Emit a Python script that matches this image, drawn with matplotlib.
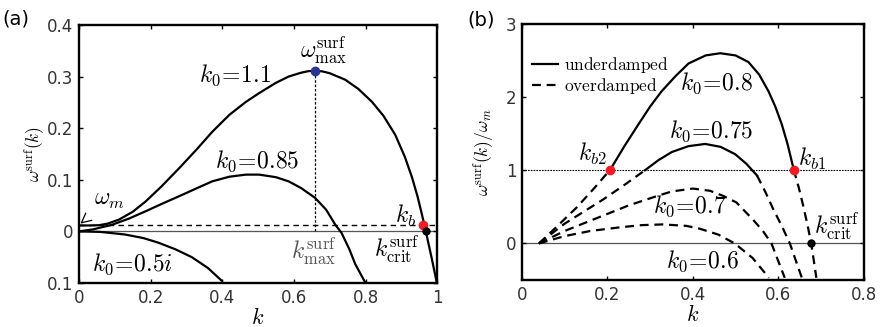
import matplotlib
matplotlib.use("Agg")
import matplotlib.pyplot as plt
from matplotlib.lines import Line2D

plt.rcParams['font.family'] = ['DejaVu Sans']
plt.rcParams['mathtext.fontset'] = 'cm'

# ---------------- Panel (a) data ----------------
k_a11 = [0.0, 0.03, 0.056, 0.08, 0.112, 0.15, 0.186, 0.23, 0.279, 0.33, 0.372, 0.42, 0.466,
         0.503, 0.55, 0.585, 0.62, 0.64, 0.659, 0.68, 0.70, 0.743, 0.78, 0.818, 0.85, 0.883,
         0.91, 0.93, 0.945, 0.957, 0.968, 0.985, 1.0]
w_a11 = [0.0115, 0.0115, 0.012, 0.015, 0.023, 0.038, 0.058, 0.087, 0.122, 0.160, 0.193,
         0.226, 0.251, 0.268, 0.288, 0.300, 0.3075, 0.3105, 0.3115, 0.310, 0.3065, 0.294,
         0.276, 0.251, 0.224, 0.187, 0.144, 0.104, 0.068, 0.034, 0.001, -0.053, -0.103]

k_a085 = [0.0, 0.04, 0.093, 0.14, 0.186, 0.23, 0.279, 0.33, 0.372, 0.42, 0.466, 0.503,
          0.55, 0.585, 0.62, 0.659, 0.69, 0.715, 0.733, 0.755, 0.771, 0.799]
w_a085 = [0.0, 0.004, 0.013, 0.025, 0.039, 0.053, 0.068, 0.084, 0.097, 0.106, 0.110,
          0.110, 0.105, 0.097, 0.084, 0.065, 0.042, 0.0135, -0.003, -0.035, -0.063, -0.099]

k_a05i = [0.0, 0.06, 0.128, 0.18, 0.222, 0.27, 0.315, 0.36, 0.399]
w_a05i = [0.0, -0.001, -0.006, -0.013, -0.022, -0.035, -0.050, -0.071, -0.096]

omega_m = 0.012
k_max, w_max = 0.659, 0.3115
k_b, k_crit_a = 0.961, 0.968

# ---------------- Panel (b) data ----------------
k_b08_u = [0.207, 0.24, 0.273, 0.30, 0.327, 0.36, 0.39, 0.43, 0.464, 0.50, 0.530, 0.555,
           0.577, 0.593, 0.608, 0.622, 0.636]
w_b08_u = [1.01, 1.33, 1.63, 1.87, 2.08, 2.29, 2.46, 2.57, 2.60, 2.57, 2.48, 2.31,
           2.08, 1.87, 1.63, 1.35, 1.01]
k_b08_o1 = [0.04, 0.08, 0.128, 0.17, 0.207]
w_b08_o1 = [0.0, 0.22, 0.49, 0.76, 1.01]
k_b08_o2 = [0.636, 0.648, 0.658, 0.668, 0.677, 0.689]
w_b08_o2 = [1.01, 0.76, 0.52, 0.26, 0.0, -0.47]

k_b075_u = [0.288, 0.32, 0.351, 0.39, 0.429, 0.465, 0.499, 0.525, 0.550]
w_b075_u = [1.0, 1.14, 1.25, 1.33, 1.36, 1.32, 1.22, 1.09, 0.93]
k_b075_o1 = [0.04, 0.10, 0.19, 0.24, 0.288]
w_b075_o1 = [0.0, 0.27, 0.60, 0.80, 1.0]
k_b075_o2 = [0.550, 0.57, 0.588, 0.608, 0.627, 0.655]
w_b075_o2 = [0.93, 0.70, 0.47, 0.24, 0.0, -0.47]

k_b07 = [0.04, 0.10, 0.19, 0.25, 0.307, 0.35, 0.40, 0.44, 0.471, 0.502, 0.54, 0.564, 0.584, 0.615]
w_b07 = [0.0, 0.17, 0.38, 0.52, 0.63, 0.71, 0.75, 0.72, 0.65, 0.56, 0.33, 0.17, 0.0, -0.47]

k_b06 = [0.04, 0.10, 0.16, 0.229, 0.28, 0.33, 0.385, 0.417, 0.46, 0.498, 0.54, 0.578]
w_b06 = [0.0, 0.10, 0.17, 0.22, 0.25, 0.26, 0.24, 0.20, 0.12, 0.0, -0.20, -0.47]

k_b2, k_b1, k_crit_b = 0.207, 0.636, 0.677

# ---------------- Figure ----------------
fig = plt.figure(figsize=(8.8, 3.27), dpi=100)
axa = fig.add_axes([0.0898, 0.1346, 0.407, 0.789])
axb = fig.add_axes([0.593, 0.1437, 0.3886, 0.783])

tick_color = '#333333'
for ax in (axa, axb):
    for s in ax.spines.values():
        s.set_linewidth(1.7)
    ax.tick_params(direction='in', top=True, right=True, length=3, width=1,
                   labelsize=12, labelcolor=tick_color, pad=4)

lw = 1.6
dash = (0, (4, 2.6))

# Panel (a)
axa.axhline(0, color='#555555', lw=0.9, zorder=1)
axa.plot([0, 1], [omega_m, omega_m], color='black', lw=1.0, ls=(0, (4, 3)), zorder=1)
axa.plot(k_a11, w_a11, color='black', lw=lw)
axa.plot(k_a085, w_a085, color='black', lw=lw)
axa.plot(k_a05i, w_a05i, color='black', lw=lw)
axa.plot([k_max, k_max], [0, w_max], color='black', lw=0.9, ls=(0, (2, 1.5)))
axa.plot([k_max], [w_max], 'o', color='#2b3590', ms=6, zorder=5)
axa.plot([k_b], [omega_m], 'o', color='#ee1c24', ms=6, zorder=5)
axa.plot([k_crit_a], [0], 'o', color='black', ms=5, zorder=5)

axa.set_xlim(0, 1)
axa.set_ylim(-0.1, 0.4)
axa.set_xticks([0, 0.2, 0.4, 0.6, 0.8, 1])
axa.set_xticklabels(['0', '0.2', '0.4', '0.6', '0.8', '1'])
axa.set_yticks([-0.1, 0, 0.1, 0.2, 0.3, 0.4])
axa.set_yticklabels(['0.1', '0', '0.1', '0.2', '0.3', '0.4'])
axa.set_xlabel(r'$k$', fontsize=16, labelpad=0)
axa.set_ylabel(r'$\omega^{\rm surf}(k)$', fontsize=12.5, labelpad=0)

fs = 17
axa.text(0.682, 0.352, r'$\omega^{\rm surf}_{\rm max}$', fontsize=fs, ha='center', va='center')
axa.text(0.436, 0.302, r'$k_0\!=\!1.1$', fontsize=fs, ha='center', va='center')
axa.text(0.497, 0.135, r'$k_0\!=\!0.85$', fontsize=fs, ha='center', va='center')
axa.text(0.913, 0.029, r'$k_b$', fontsize=fs, ha='center', va='center')
axa.text(0.654, -0.038, r'$k^{\rm surf}_{\rm max}$', fontsize=fs, ha='center', va='center', color='#555555')
axa.text(0.888, -0.035, r'$k^{\rm surf}_{\rm crit}$', fontsize=fs, ha='center', va='center')
axa.text(0.148, -0.063, r'$k_0\!=\!0.5i$', fontsize=fs, ha='center', va='center')
axa.annotate(r'$\omega_m$', xy=(0.004, 0.015), xytext=(0.085, 0.062), fontsize=fs,
             ha='center', va='center',
             arrowprops=dict(arrowstyle='->', color='black', lw=0.9, shrinkA=9, shrinkB=0))
fig.text(0.003, 0.942, '(a)', fontsize=14, ha='left', va='center')

# Panel (b)
axb.axhline(0, color='#555555', lw=0.9, zorder=1)
axb.axhline(1, color='black', lw=0.8, ls=(0, (1.5, 1)), zorder=1)
axb.plot(k_b08_u, w_b08_u, color='black', lw=lw)
axb.plot(k_b08_o1, w_b08_o1, color='black', lw=lw, ls=dash)
axb.plot(k_b08_o2, w_b08_o2, color='black', lw=lw, ls=dash)
axb.plot(k_b075_u, w_b075_u, color='black', lw=lw)
axb.plot(k_b075_o1, w_b075_o1, color='black', lw=lw, ls=dash)
axb.plot(k_b075_o2, w_b075_o2, color='black', lw=lw, ls=dash)
axb.plot(k_b07, w_b07, color='black', lw=lw, ls=dash)
axb.plot(k_b06, w_b06, color='black', lw=lw, ls=dash)
axb.plot([k_b2, k_b1], [1, 1], 'o', color='#ee1c24', ms=6, zorder=5)
axb.plot([k_crit_b], [0], 'o', color='black', ms=5, zorder=5)

axb.set_xlim(0, 0.8)
axb.set_ylim(-0.5, 3)
axb.set_xticks([0, 0.2, 0.4, 0.6, 0.8])
axb.set_xticklabels(['0', '0.2', '0.4', '0.6', '0.8'])
axb.set_yticks([0, 1, 2, 3])
axb.set_yticklabels(['0', '1', '2', '3'])
axb.set_xlabel(r'$k$', fontsize=16, labelpad=0)
axb.set_ylabel(r'$\omega^{\rm surf}(k)/\omega_m$', fontsize=12.5, labelpad=6)

axb.text(0.456, 2.19, r'$k_0\!=\!0.8$', fontsize=fs, ha='center', va='center')
axb.text(0.442, 1.53, r'$k_0\!=\!0.75$', fontsize=fs, ha='center', va='center')
axb.text(0.166, 1.22, r'$k_{b2}$', fontsize=fs, ha='center', va='center')
axb.text(0.680, 1.15, r'$k_{b1}$', fontsize=fs, ha='center', va='center')
axb.text(0.393, 0.51, r'$k_0\!=\!0.7$', fontsize=fs, ha='center', va='center')
axb.text(0.737, 0.23, r'$k^{\rm surf}_{\rm crit}$', fontsize=fs, ha='center', va='center')
axb.text(0.423, -0.24, r'$k_0\!=\!0.6$', fontsize=fs, ha='center', va='center')

handles = [Line2D([], [], color='black', lw=lw),
           Line2D([], [], color='black', lw=lw, ls=dash)]
axb.legend(handles, [r'$\mathrm{underdamped}$', r'$\mathrm{overdamped}$'],
           loc='upper left', bbox_to_anchor=(0.0, 0.92), frameon=False,
           fontsize=12.5, handlelength=1.5, handletextpad=0.3, labelspacing=0.05,
           borderaxespad=0.2)
fig.text(0.531, 0.938, '(b)', fontsize=14, ha='left', va='center')

fig.savefig('out.png', dpi=100)
